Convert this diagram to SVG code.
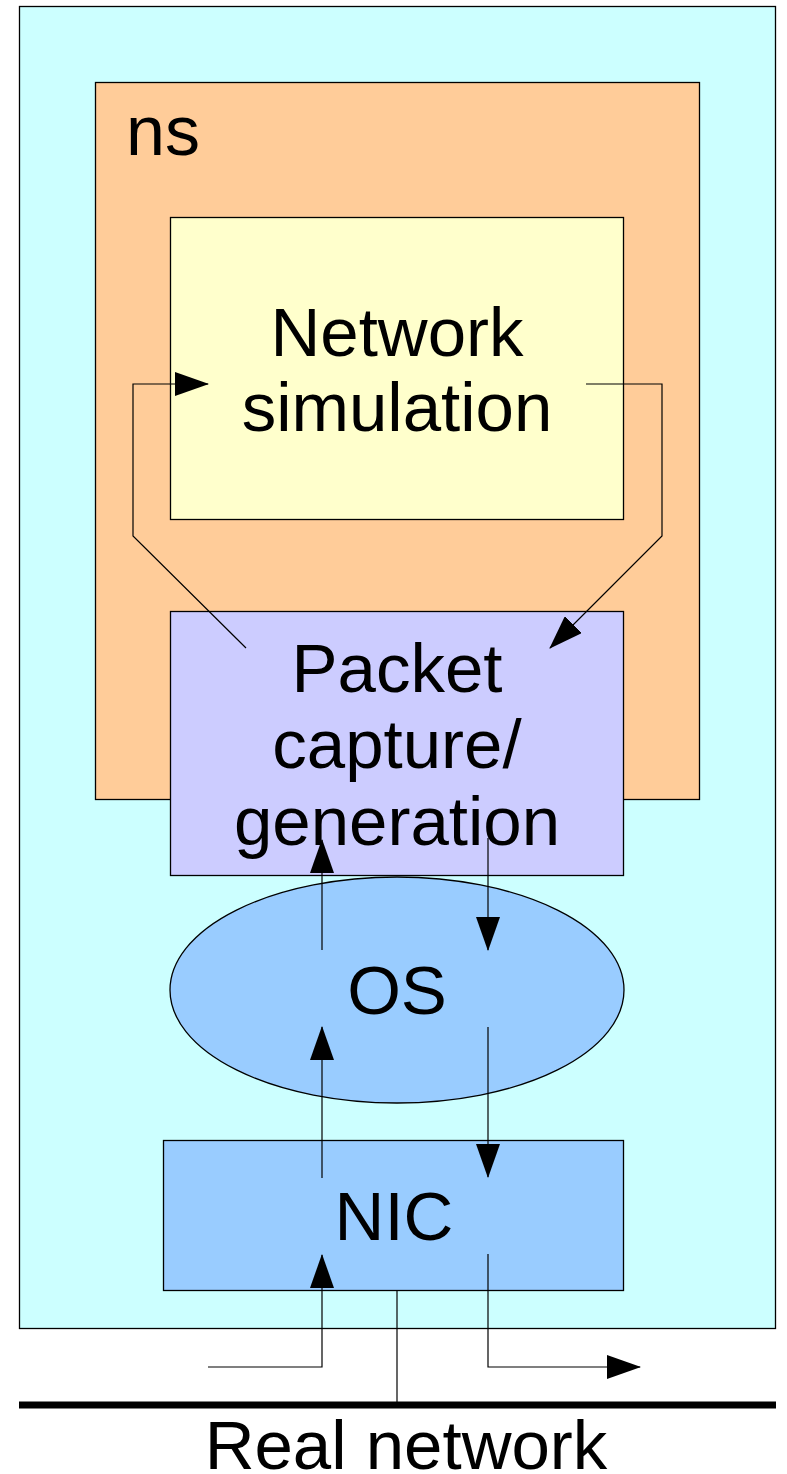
<svg xmlns="http://www.w3.org/2000/svg" width="787" height="1474" viewBox="0 0 787 1474">
<style>
.box{stroke:#000;stroke-width:1.3}
.t{font-family:"Liberation Sans",Arial,sans-serif;fill:#000;text-anchor:middle;font-size:69px}
.c{fill:none;stroke:#000;stroke-width:1.2}
</style>
<defs>
<marker id="ah" markerWidth="34" markerHeight="24" refX="33" refY="12" orient="auto" markerUnits="userSpaceOnUse">
<path d="M0,0 L34,12 L0,24 Z" fill="#000"/>
</marker>
</defs>
<g id="host"><rect class="box" x="19.5" y="6.5" width="756" height="1322" fill="#ccffff"/></g>
<g id="ns"><rect class="box" x="95.5" y="82.5" width="604" height="717" fill="#ffcc99"/>
<text class="t" x="163" y="155" style="font-size:70px">ns</text></g>
<g id="netsim"><rect class="box" x="170.5" y="217.5" width="453" height="302" fill="#ffffcc"/>
<text class="t" x="397" y="356">Network</text>
<text class="t" x="397" y="431">simulation</text></g>
<g id="packet"><rect class="box" x="170.5" y="611.5" width="453" height="264" fill="#ccccff"/>
<text class="t" x="397" y="692">Packet</text>
<text class="t" x="397" y="768">capture/</text>
<text class="t" x="397" y="845">generation</text></g>
<g id="os"><ellipse class="box" cx="397" cy="990" rx="227" ry="113" fill="#99ccff"/>
<text class="t" x="397" y="1014">OS</text></g>
<g id="nic"><rect class="box" x="163.5" y="1140.5" width="460" height="150" fill="#99ccff"/>
<text class="t" x="394" y="1240">NIC</text></g>
<g id="network"><line x1="19" y1="1405" x2="776" y2="1405" stroke="#000" stroke-width="7"/>
<text class="t" x="406" y="1469">Real network</text></g>
<g id="connectors">
<path class="c" d="M246,648 L133,536 L133,384 L208,384" marker-end="url(#ah)"/>
<path class="c" d="M586,384 L662,384 L662,536 L550,648" marker-end="url(#ah)"/>
<path class="c" d="M322,950 L322,840" marker-end="url(#ah)"/>
<path class="c" d="M488,838 L488,950" marker-end="url(#ah)"/>
<path class="c" d="M322,1178 L322,1027" marker-end="url(#ah)"/>
<path class="c" d="M488,1027 L488,1177" marker-end="url(#ah)"/>
<path class="c" d="M208,1367 L322,1367 L322,1255" marker-end="url(#ah)"/>
<path class="c" d="M488,1254 L488,1367 L640,1367" marker-end="url(#ah)"/>
<line class="c" x1="397" y1="1291" x2="397" y2="1405"/>
</g>
</svg>
